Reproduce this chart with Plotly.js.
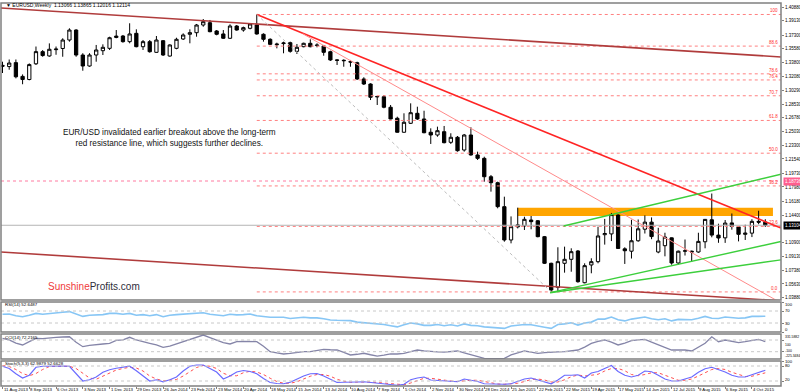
<!DOCTYPE html>
<html><head><meta charset="utf-8">
<script src="https://cdn.plot.ly/plotly-3.0.1.min.js"></script>
<style>html,body{margin:0;padding:0;background:#fff}#chart{width:800px;height:392px}</style>
</head><body><div id="chart"></div>
<script>
const weeks = ['2013-08-11','2013-08-18','2013-08-25','2013-09-01','2013-09-08','2013-09-15','2013-09-22','2013-09-29','2013-10-06','2013-10-13','2013-10-20','2013-10-27','2013-11-03','2013-11-10','2013-11-17','2013-11-24','2013-12-01','2013-12-08','2013-12-15','2013-12-22','2013-12-29',
'2014-01-05','2014-01-12','2014-01-19','2014-01-26','2014-02-02','2014-02-09','2014-02-16','2014-02-23','2014-03-02','2014-03-09','2014-03-16','2014-03-23','2014-03-30','2014-04-06','2014-04-13','2014-04-20','2014-04-27','2014-05-04','2014-05-11','2014-05-18','2014-05-25','2014-06-01','2014-06-08','2014-06-15','2014-06-22','2014-06-29','2014-07-06','2014-07-13','2014-07-20','2014-07-27','2014-08-03','2014-08-10','2014-08-17','2014-08-24','2014-08-31','2014-09-07','2014-09-14','2014-09-21','2014-09-28','2014-10-05','2014-10-12','2014-10-19','2014-10-26','2014-11-02','2014-11-09','2014-11-16','2014-11-23','2014-11-30','2014-12-07','2014-12-14','2014-12-21','2014-12-28',
'2015-01-04','2015-01-11','2015-01-18','2015-01-25','2015-02-01','2015-02-08','2015-02-15','2015-02-22','2015-03-01','2015-03-08','2015-03-15','2015-03-22','2015-03-29','2015-04-05','2015-04-12','2015-04-19','2015-04-26','2015-05-03','2015-05-10','2015-05-17','2015-05-24','2015-05-31','2015-06-07','2015-06-14','2015-06-21','2015-06-28','2015-07-05','2015-07-12','2015-07-19','2015-07-26','2015-08-02','2015-08-09','2015-08-16','2015-08-23','2015-08-30','2015-09-06','2015-09-13','2015-09-20','2015-09-27','2015-10-04','2015-10-11','2015-10-18'];

const open = [1.3345,1.3330,1.3380,1.3205,1.3165,1.3365,1.3520,1.3465,1.3545,1.3560,1.3668,1.3795,1.3477,1.3337,1.3477,1.3532,1.3562,1.3700,1.3719,1.3647,1.3753,
1.3583,1.3647,1.3511,1.3659,1.3464,1.3562,1.3681,1.3741,1.3761,1.3859,1.3888,1.3783,1.3745,1.3690,1.3846,1.3795,1.3817,1.3859,1.3741,1.3677,1.3608,1.3622,1.3634,1.3524,1.3583,1.3626,1.3597,1.3592,1.3519,1.3414,1.3410,1.3392,1.3379,1.3172,1.3108,1.2950,1.2946,1.2812,1.2672,1.2494,1.2608,1.2735,1.2663,1.2494,1.2459,1.2501,1.2366,1.2430,1.2268,1.2459,1.2205,1.2162,
1.1928,1.1852,1.1547,1.1123,1.1290,1.1302,1.1377,1.1368,1.1165,1.0826,1.0520,1.0826,1.0877,1.0983,1.0579,1.0805,1.0847,1.1190,1.1200,1.1440,1.1010,1.0980,1.1113,1.1260,1.1350,1.0970,1.1050,1.1150,1.0830,1.0980,1.0980,1.0970,1.1100,1.1380,1.1185,1.1150,1.1340,1.1290,1.1195,1.1210,1.1360,1.1350];
const high = [1.3392,1.3420,1.3420,1.3230,1.3370,1.3585,1.3540,1.3625,1.3585,1.3690,1.3817,1.3805,1.3500,1.3500,1.3605,1.3613,1.3710,1.3795,1.3732,1.3881,1.3804,
1.3668,1.3668,1.3719,1.3668,1.3613,1.3697,1.3753,1.3804,1.3872,1.3935,1.3923,1.3795,1.3795,1.3868,1.3859,1.3838,1.3881,1.3993,1.3753,1.3690,1.3634,1.3647,1.3647,1.3617,1.3634,1.3677,1.3626,1.3605,1.3532,1.3422,1.3422,1.3414,1.3392,1.3194,1.3117,1.2955,1.2968,1.2841,1.2692,1.2735,1.2862,1.2819,1.2768,1.2544,1.2565,1.2574,1.2481,1.2446,1.2472,1.2557,1.2247,1.2183,
1.1950,1.1865,1.1674,1.1423,1.1534,1.1419,1.1428,1.1377,1.1174,1.0834,1.1030,1.1038,1.1017,1.0995,1.0826,1.0890,1.1292,1.1391,1.1467,1.1450,1.1030,1.1380,1.1384,1.1436,1.1410,1.1278,1.1215,1.1155,1.0988,1.1129,1.0988,1.1215,1.1390,1.1714,1.1330,1.1377,1.1460,1.1300,1.1317,1.1387,1.1495,1.1387];
const low = [1.3248,1.3290,1.3180,1.3105,1.3155,1.3350,1.3455,1.3455,1.3480,1.3455,1.3647,1.3455,1.3277,1.3328,1.3392,1.3477,1.3541,1.3690,1.3634,1.3626,1.3575,
1.3541,1.3507,1.3507,1.3465,1.3456,1.3550,1.3668,1.3626,1.3710,1.3837,1.3766,1.3728,1.3681,1.3681,1.3787,1.3774,1.3804,1.3736,1.3647,1.3605,1.3562,1.3499,1.3507,1.3490,1.3575,1.3575,1.3575,1.3468,1.3401,1.3350,1.3328,1.3328,1.3159,1.3095,1.2904,1.2841,1.2799,1.2659,1.2489,1.2489,1.2599,1.2650,1.2481,1.2345,1.2437,1.2353,1.2345,1.2247,1.2247,1.2196,1.2141,1.1865,
1.1738,1.1526,1.1101,1.1080,1.1270,1.1250,1.1259,1.1157,1.0817,1.0462,1.0470,1.0707,1.0719,1.0579,1.0571,1.0699,1.0826,1.1064,1.1109,1.1015,1.0818,1.0887,1.1100,1.1205,1.1133,1.0954,1.0915,1.0808,1.0808,1.0925,1.0848,1.0960,1.1017,1.1157,1.1087,1.1086,1.1254,1.1105,1.1123,1.1160,1.1323,1.1290];
const close = [1.3335,1.3375,1.3200,1.3165,1.3355,1.3520,1.3470,1.3550,1.3552,1.3668,1.3795,1.3477,1.3337,1.3477,1.3541,1.3575,1.3697,1.3718,1.3647,1.3745,1.3583,
1.3647,1.3519,1.3668,1.3477,1.3605,1.3677,1.3732,1.3761,1.3859,1.3901,1.3774,1.3741,1.3690,1.3846,1.3795,1.3825,1.3872,1.3745,1.3677,1.3613,1.3615,1.3630,1.3524,1.3575,1.3626,1.3583,1.3603,1.3511,1.3414,1.3410,1.3405,1.3388,1.3172,1.3108,1.2939,1.2946,1.2812,1.2663,1.2494,1.2621,1.2743,1.2663,1.2488,1.2459,1.2514,1.2361,1.2430,1.2259,1.2459,1.2205,1.2162,1.1928,
1.1852,1.1547,1.1123,1.1292,1.1315,1.1386,1.1356,1.1165,1.0826,1.0486,1.0847,1.0877,1.0974,1.0592,1.0796,1.0847,1.1174,1.1205,1.1446,1.1015,1.0986,1.1113,1.1265,1.1350,1.1166,1.1110,1.1160,1.0830,1.0980,1.0985,1.0970,1.1105,1.1385,1.1185,1.1148,1.1338,1.1294,1.1195,1.1210,1.1360,1.1350,1.1311];

const rsi = [59,60,54,51,56,62,59,62,63,66,68,60,52,56,57,58,62,62,59,62,56,58,54,58,51,56,58,60,60,63,64,59,57,54,59,57,58,60,54,51,49,49,49,45,47,49,47,47,44,40,39,39,38,33,31,28,28,25,21,17,24,30,27,22,22,25,21,24,20,27,22,21,17,16,14,12,20,22,25,24,21,16,12,25,27,31,23,30,33,43,43,50,41,37,43,47,50,44,41,44,37,42,42,41,46,52,46,45,50,48,46,47,52,52,52.6487];
const cci = [129,101,48,15,71,129,125,140,146,151,156,63,-14,9,25,32,43,94,101,146,100,78,43,17,-25,-6,32,78,112,155,185,140,100,55,32,71,75,78,71,-6,-100,-121,-139,-129,-113,-98,-100,-83,-59,-67,-71,-113,-156,-144,-127,-152,-174,-159,-139,-139,-127,-98,-71,-86,-100,-103,-106,-94,-88,-121,-156,-182,-213,-217,-214,-213,-156,-121,-88,-106,-127,-117,-106,-103,-100,-86,-71,-21,43,78,100,63,15,48,88,101,112,63,15,-29,-71,-71,-71,-88,-21,43,156,71,100,78,54,71,88,112,72.2165];
const stochK = [79,70,49,32,43,75,79,80,79,80,79,50,20,25,36,55,65,71,75,79,61,40,20,25,17,25,36,60,79,84,84,70,56,28,40,56,62,58,49,30,14,10,9,15,28,40,49,50,40,28,14,15,17,16,17,14,12,8,4,3,7,25,32,36,24,22,20,18,17,28,24,18,9,8,7,7,9,18,28,32,24,15,9,24,43,43,45,32,52,58,70,82,58,43,36,43,60,57,43,28,20,20,28,36,55,69,75,66,56,43,36,36,45,56,62.9879];
const stochD = [82,78,66,50,41,50,66,78,79,79,79,70,50,32,27,39,52,64,70,75,72,60,40,28,21,22,26,40,58,74,82,79,70,51,41,41,53,59,56,46,31,18,11,11,17,28,39,46,46,39,27,19,15,16,17,16,14,11,8,5,5,12,21,31,31,27,22,20,18,21,23,23,17,12,8,7,8,11,18,26,28,24,16,16,25,37,44,40,43,47,60,70,70,61,46,41,46,53,53,43,30,23,23,28,40,53,66,70,66,55,45,38,39,46,52.6628];

const tickDates = ['2013-08-11','2013-09-08','2013-10-06','2013-11-03','2013-12-01','2013-12-29','2014-01-26','2014-02-23','2014-03-23','2014-04-20','2014-05-18','2014-06-15','2014-07-13','2014-08-10','2014-09-07','2014-10-05','2014-11-02','2014-11-30','2014-12-28','2015-01-25','2015-02-22','2015-03-22','2015-04-19','2015-05-17','2015-06-14','2015-07-12','2015-08-09','2015-09-06','2015-10-04'];
const tickLabels = ['11 Aug 2013','8 Sep 2013','6 Oct 2013','3 Nov 2013','1 Dec 2013','29 Dec 2013','26 Jan 2014','23 Feb 2014','23 Mar 2014','20 Apr 2014','18 May 2014','15 Jun 2014','13 Jul 2014','10 Aug 2014','7 Sep 2014','5 Oct 2014','2 Nov 2014','30 Nov 2014','28 Dec 2014','25 Jan 2015','22 Feb 2015','22 Mar 2015','19 Apr 2015','17 May 2015','14 Jun 2015','12 Jul 2015','9 Aug 2015','6 Sep 2015','4 Oct 2015'];
const priceTicks = [1.40880,1.39130,1.37300,1.35580,1.33800,1.32080,1.30290,1.28530,1.26780,1.25030,1.23300,1.21540,1.19730,1.17980,1.16180,1.14400,1.10900,1.09130,1.07380,1.05630,1.03880];
const rsiTicks = ['100','70','30','0'];
const cciTicks = ['331.5882','100','-100','-225.3484'];
const stochTicks = ['100','80','20'];

const fibLevels = [0,23.6,38.2,50,61.8,70.7,76.4,78.6,88.6,100];
const fibLabels = ['0.0','23.6','38.2','50.0','61.8','70.7','76.4','78.6','88.6','100'];
const fibHigh = {x:'2014-05-04', y:1.3993};
const fibLow  = {x:'2015-03-08', y:1.0462};

const X0 = '2013-08-09 10:00', X1 = '2015-11-03 10:00';
const trendLines = [
  {x0:X0, y0:1.40754, x1:X1, y1:1.34518, color:'#b03c3c', width:1.6, dash:'solid'},
  {x0:X0, y0:1.09700, x1:X1, y1:1.03489, color:'#b03c3c', width:1.6, dash:'solid'},
  {x0:'2014-05-04', y0:1.3993, x1:X1, y1:1.1275, color:'#ff2424', width:1.6, dash:'solid'},
  {x0:'2014-06-21', y0:1.37483, x1:'2015-10-29', y1:1.03591, color:'#ff8a8a', width:1, dash:'solid'},
  {x0:fibHigh.x, y0:fibHigh.y, x1:fibLow.x, y1:fibLow.y, color:'#bdbdbd', width:1, dash:'dot'},
  {x0:'2015-03-21', y0:1.13010, x1:X1, y1:1.19601, color:'#3ccf3c', width:1.4, dash:'solid'},
  {x0:'2015-03-07', y0:1.04520, x1:X1, y1:1.11036, color:'#3ccf3c', width:1.4, dash:'solid'},
  {x0:'2015-03-07', y0:1.04520, x1:X1, y1:1.08700, color:'#3ccf3c', width:1.4, dash:'solid'}
];
const resistanceZone = {x0:'2015-02-01', x1:'2015-10-26', y0:1.1428, y1:1.1534};
const markerLine = 1.18736, lastPrice = 1.13104;

const D = {main:[0.22454,1], rsi:[0.14099,0.21932], cci:[0.0705,0.13577], sto:[0,0.06527]};
const FONT = 'Liberation Sans, Arial, sans-serif';

const traces = [
  {type:'candlestick', x:weeks, open:open, high:high, low:low, close:close, xaxis:'x', yaxis:'y',
   increasing:{line:{color:'#000',width:1}, fillcolor:'#fff'},
   decreasing:{line:{color:'#000',width:1}, fillcolor:'#000'}, whiskerwidth:0, hoverinfo:'skip'},
  {type:'scatter', mode:'lines', x:weeks, y:rsi, xaxis:'x', yaxis:'y2', line:{color:'#87c6f5',width:1.6}, hoverinfo:'skip'},
  {type:'scatter', mode:'lines', x:weeks, y:cci, xaxis:'x', yaxis:'y3', line:{color:'#8585a8',width:1.3}, hoverinfo:'skip'},
  {type:'scatter', mode:'lines', x:weeks, y:stochD, xaxis:'x', yaxis:'y4', line:{color:'#ff5050',width:1,dash:'dot'}, hoverinfo:'skip'},
  {type:'scatter', mode:'lines', x:weeks, y:stochK, xaxis:'x', yaxis:'y4', line:{color:'#6a6aff',width:1.2}, hoverinfo:'skip'}
];

const shapes = [];
const fibRange = fibHigh.y - fibLow.y;
fibLevels.forEach(l => {
  shapes.push({type:'line', xref:'x', yref:'y', x0:fibHigh.x, x1:X1, y0:fibLow.y + l/100*fibRange, y1:fibLow.y + l/100*fibRange,
    line:{color:'#ff8080', width:1, dash:'dot'}});
});
shapes.push({type:'line', xref:'paper', yref:'y', x0:0, x1:1, y0:markerLine, y1:markerLine, line:{color:'#ff7aa0',width:1,dash:'dot'}});
shapes.push({type:'line', xref:'paper', yref:'y', x0:0, x1:1, y0:lastPrice, y1:lastPrice, line:{color:'#b4b4b4',width:1}});
shapes.push({type:'rect', xref:'x', yref:'y', x0:resistanceZone.x0, x1:resistanceZone.x1, y0:resistanceZone.y0, y1:resistanceZone.y1,
  fillcolor:'#ffa500', line:{width:0}, layer:'below'});
trendLines.forEach(t => shapes.push({type:'line', xref:'x', yref:'y', x0:t.x0, y0:t.y0, x1:t.x1, y1:t.y1, line:{color:t.color,width:t.width,dash:t.dash}}));
[[70,'y2'],[30,'y2'],[100,'y3'],[-100,'y3'],[80,'y4'],[20,'y4']].forEach(([v,ax]) =>
  shapes.push({type:'line', xref:'paper', yref:ax, x0:0, x1:1, y0:v, y1:v, line:{color:'#c8c8c8',width:1,dash:'dot'}}));
Object.values(D).forEach(d => shapes.push({type:'rect', xref:'paper', yref:'paper', x0:0, x1:1, y0:d[0], y1:d[1], line:{color:'#808080',width:1.5}}));

const ann = [];
const yp = py => (386 - py) / 383;
const sm = {family:FONT,size:4.4,color:'#000'};
ann.push({xref:'paper', yref:'paper', x:0.004, y:yp(5), xanchor:'left', yanchor:'middle', showarrow:false,
  text:'\u25BC EURUSD,Weekly  1.13066 1.13865 1.12016 1.12114', font:{family:FONT,size:5,color:'#000'}});
ann.push({xref:'paper', yref:'paper', x:(169.5-1)/780, y:yp(137.8), xanchor:'center', yanchor:'middle', showarrow:false,
  text:'EUR/USD invalidated earlier breakout above the long-term<br>red resistance line, which suggests further declines.', font:{family:FONT,size:8.2,color:'#111'}});
ann.push({xref:'paper', yref:'paper', x:(94-1)/780, y:yp(286.5), xanchor:'center', yanchor:'middle', showarrow:false,
  text:'<span style="color:#ef3a3a">Sunshine</span>Profits.com', font:{family:FONT,size:10,color:'#2e2e3a'}});
fibLevels.forEach((l,i) => ann.push({xref:'paper', yref:'y', x:0.997, y:fibLow.y + l/100*fibRange, xanchor:'right', yanchor:'bottom', showarrow:false,
  text:fibLabels[i], font:{family:FONT,size:4.5,color:'#ff3030'}, borderpad:0}));
ann.push({xref:'paper', yref:'y', x:1.003, y:markerLine, xanchor:'left', yanchor:'middle', showarrow:false, text:markerLine.toFixed(5),
  bgcolor:'#ff5e8e', font:{family:FONT,size:4.5,color:'#fff'}, borderpad:1});
ann.push({xref:'paper', yref:'y', x:1.003, y:lastPrice, xanchor:'left', yanchor:'middle', showarrow:false, text:lastPrice.toFixed(5),
  bgcolor:'#000', font:{family:FONT,size:4.5,color:'#fff'}, borderpad:1});
ann.push({xref:'paper', yref:'paper', x:0.003, y:yp(304), xanchor:'left', yanchor:'middle', showarrow:false, text:'RSI(14) 52.6487', font:sm});
ann.push({xref:'paper', yref:'paper', x:0.003, y:yp(337), xanchor:'left', yanchor:'middle', showarrow:false, text:'CCI(14) 72.2165', font:sm});
ann.push({xref:'paper', yref:'paper', x:0.003, y:yp(363), xanchor:'left', yanchor:'middle', showarrow:false, text:'Stoch(5,3,3) 62.9879 52.6628', font:sm});
tickDates.forEach((d,i) => ann.push({xref:'x', yref:'paper', x:d, y:yp(389.3), xanchor:'left', yanchor:'middle', xshift:-1, showarrow:false,
  text:tickLabels[i], font:{family:FONT,size:4.3,color:'#000'}}));
const sideLab = (txt, py, fs) => ann.push({xref:'paper', yref:'paper', x:1.002, y:yp(py), xanchor:'left', yanchor:'middle', showarrow:false, text:txt, font:{family:FONT,size:fs||4.2,color:'#000'}});
[[rsiTicks[0],304],[rsiTicks[1],310.7],[rsiTicks[2],323],[rsiTicks[3],329.5]].forEach(a=>sideLab(a[0],a[1]));
[[cciTicks[0],336.8],[cciTicks[1],344.5],[cciTicks[2],351],[cciTicks[3],356]].forEach(a=>sideLab(a[0],a[1],3.4));
[[stochTicks[0],361],[stochTicks[1],365.6],[stochTicks[2],379]].forEach(a=>sideLab(a[0],a[1]));

const yBase = {side:'right', anchor:'x', showgrid:false, zeroline:false, ticks:'outside', ticklen:2, tickcolor:'#808080',
  tickfont:{family:FONT,size:4.5,color:'#000'}, fixedrange:true, showline:false};
const layout = {
  width:800, height:392, margin:{l:1, r:19, t:3, b:6}, paper_bgcolor:'#fff', plot_bgcolor:'#fff', showlegend:false,
  xaxis:{type:'date', domain:[0,1], anchor:'y4', range:[X0,X1], rangeslider:{visible:false}, showgrid:false, zeroline:false,
    tickvals:tickDates, ticks:'outside', ticklen:2, tickcolor:'#808080', showticklabels:false, showline:false},
  yaxis:Object.assign({}, yBase, {domain:D.main, range:[1.0359,1.4139], tickvals:priceTicks, ticktext:priceTicks.map(v=>v.toFixed(5))}),
  yaxis2:Object.assign({}, yBase, {domain:D.rsi, range:[0,100], tickvals:[100,70,30,0], showticklabels:false}),
  yaxis3:Object.assign({}, yBase, {domain:D.cci, range:[-224.8,202.6], tickvals:[100,-100], showticklabels:false}),
  yaxis4:Object.assign({}, yBase, {domain:D.sto, range:[0,100], tickvals:[100,80,20], showticklabels:false}),
  shapes:shapes, annotations:ann
};
Plotly.newPlot('chart', traces, layout, {staticPlot:true, displayModeBar:false});
</script></body></html>
